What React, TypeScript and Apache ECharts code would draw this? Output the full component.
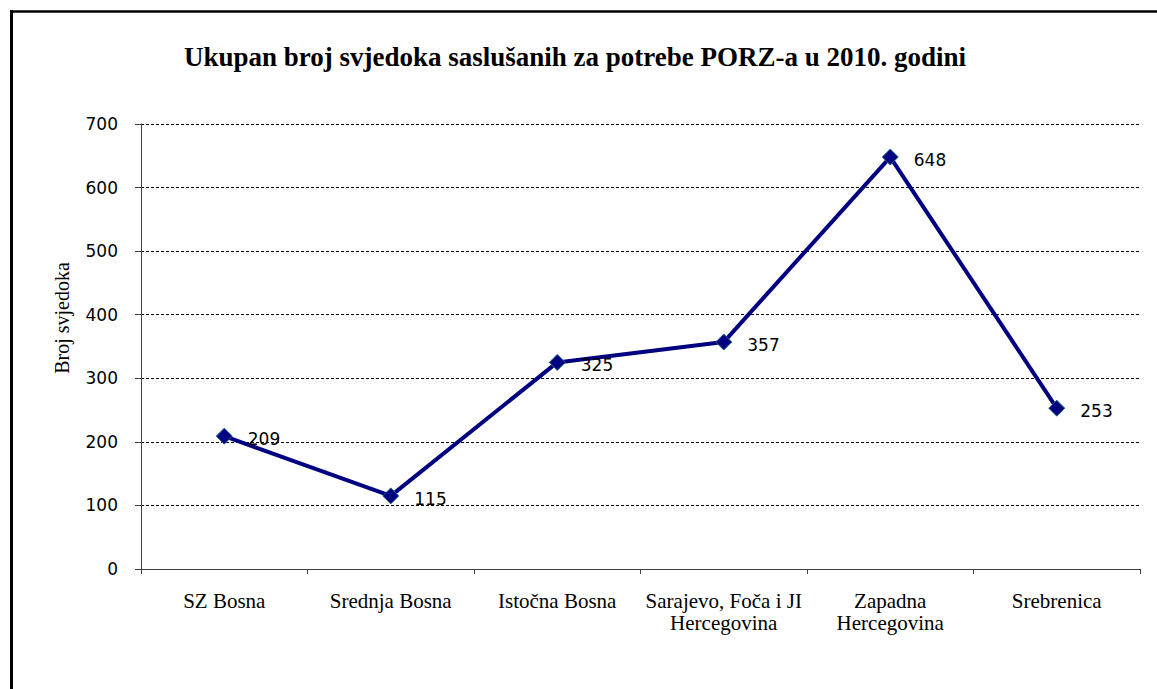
import React, { useEffect, useRef } from "react";
import * as echarts from "echarts";

const title = "Ukupan broj svjedoka saslušanih za potrebe PORZ-a u 2010. godini";
const yAxisName = "Broj svjedoka";
const categories = [
  "SZ Bosna",
  "Srednja Bosna",
  "Istočna Bosna",
  "Sarajevo, Foča i JI\nHercegovina",
  "Zapadna\nHercegovina",
  "Srebrenica",
];
const values = [209, 115, 325, 357, 648, 253];
const yMin = 0;
const yMax = 700;
const yInterval = 100;

const SERIF = "'Liberation Serif', 'Times New Roman', serif";
const SANS = "'DejaVu Sans', Verdana, sans-serif";

export default function App() {
  const ref = useRef<HTMLDivElement>(null);
  useEffect(() => {
    if (!ref.current) return;
    const chart = echarts.init(ref.current, null, { renderer: "svg" });
    chart.setOption({
      animation: false,
      backgroundColor: "#ffffff",
      title: {
        text: title,
        left: 570,
        textAlign: "center",
        top: 38,
        textStyle: { fontFamily: SERIF, fontSize: 27, fontWeight: "bold", color: "#000" },
      },
      graphic: [
        { type: "line", shape: { x1: 11.5, y1: 10, x2: 11.5, y2: 689 }, style: { stroke: "#000", lineWidth: 3 } },
        { type: "line", shape: { x1: 10, y1: 11.5, x2: 1157, y2: 11.5 }, style: { stroke: "#000", lineWidth: 2.5 } },
        {
          type: "text",
          x: 62,
          y: 318,
          rotation: Math.PI / 2,
          style: {
            text: yAxisName,
            fontFamily: SERIF,
            fontSize: 20,
            fill: "#000",
            align: "center",
            verticalAlign: "middle",
          },
        },
      ],
      grid: { left: 141, right: 17, top: 124, bottom: 120 },
      xAxis: {
        type: "category",
        data: categories,
        boundaryGap: true,
        axisLine: { lineStyle: { color: "#404040", width: 1 } },
        axisTick: { show: true, length: 5, lineStyle: { color: "#404040" } },
        axisLabel: {
          interval: 0,
          margin: 21,
          fontFamily: SERIF,
          fontSize: 21,
          color: "#000",
          lineHeight: 22,
        },
      },
      yAxis: {
        type: "value",
        min: yMin,
        max: yMax,
        interval: yInterval,
        axisLine: { show: true, lineStyle: { color: "#404040", width: 1 } },
        axisTick: { show: true, length: 6, lineStyle: { color: "#404040" } },
        axisLabel: { margin: 23, fontFamily: SANS, fontSize: 17, color: "#000" },
        splitLine: { show: true, lineStyle: { color: "#000", type: [3, 2], width: 1 } },
      },
      series: [
        {
          type: "line",
          data: values,
          symbol: "diamond",
          symbolSize: 16,
          itemStyle: { color: "#000080", borderColor: "#1a6a80", borderWidth: 1 },
          lineStyle: { color: "#000080", width: 4 },
          label: {
            show: true,
            position: "right",
            distance: 15,
            offset: [0, 3],
            fontFamily: SANS,
            fontSize: 17,
            color: "#000",
          },
        },
      ],
    });
    return () => chart.dispose();
  }, []);
  return (
    <div
      ref={ref}
      style={{ position: "fixed", left: 0, top: 0, width: 1157, height: 689 }}
    />
  );
}
